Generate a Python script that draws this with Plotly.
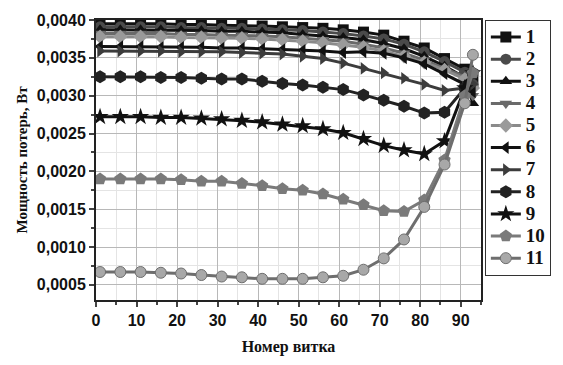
import plotly.graph_objects as go

x_turns = [1, 6, 11, 16, 21, 26, 31, 36, 41, 46, 51, 56, 61, 66, 71, 76, 81, 86, 91, 93]

s1 = [0.00395, 0.00395, 0.00395, 0.00395, 0.00394, 0.00394, 0.00393, 0.00393, 0.00392, 0.00391,
      0.00390, 0.00389, 0.00387, 0.00384, 0.00380, 0.00372, 0.00363, 0.00349, 0.00335, 0.00318]
s2 = [0.00391, 0.00391, 0.00391, 0.00391, 0.00390, 0.00390, 0.00389, 0.00389, 0.00388, 0.00387,
      0.00386, 0.00384, 0.00382, 0.00379, 0.00375, 0.00368, 0.00358, 0.00345, 0.00331, 0.00315]
s3 = [0.00387, 0.00387, 0.00387, 0.00387, 0.00386, 0.00386, 0.00385, 0.00385, 0.00384, 0.00383,
      0.00381, 0.00379, 0.00377, 0.00374, 0.00369, 0.00362, 0.00352, 0.00339, 0.00324, 0.00290]
s4 = [0.00382, 0.00382, 0.00382, 0.00382, 0.00381, 0.00381, 0.00380, 0.00380, 0.00379, 0.00378,
      0.00376, 0.00374, 0.00372, 0.00368, 0.00363, 0.00356, 0.00347, 0.00336, 0.00325, 0.00300]
s5 = [0.00378, 0.00378, 0.00378, 0.00378, 0.00377, 0.00377, 0.00376, 0.00376, 0.00375, 0.00374,
      0.00372, 0.00370, 0.00367, 0.00364, 0.00359, 0.00352, 0.00344, 0.00334, 0.00322, 0.00310]
s6 = [0.00365, 0.00365, 0.00365, 0.00364, 0.00364, 0.00364, 0.00363, 0.00363, 0.00362, 0.00361,
      0.00360, 0.00359, 0.00357, 0.00358, 0.00356, 0.00350, 0.00342, 0.00329, 0.00315, 0.00305]
s7 = [0.00359, 0.00359, 0.00359, 0.00359, 0.00358, 0.00358, 0.00358, 0.00357, 0.00356, 0.00355,
      0.00352, 0.00349, 0.00343, 0.00336, 0.00330, 0.00323, 0.00315, 0.00307, 0.00310, 0.00315]
s8 = [0.00325, 0.00325, 0.00325, 0.00324, 0.00324, 0.00323, 0.00322, 0.00322, 0.00319, 0.00316,
      0.00314, 0.00311, 0.00308, 0.00301, 0.00294, 0.00286, 0.00277, 0.00278, 0.00310, 0.00330]
s9 = [0.00272, 0.00272, 0.00272, 0.00271, 0.00271, 0.00270, 0.00269, 0.00267, 0.00265, 0.00262,
      0.00260, 0.00256, 0.00251, 0.00243, 0.00234, 0.00228, 0.00223, 0.00240, 0.00310, 0.00330]
s10 = [0.00190, 0.00190, 0.00190, 0.00190, 0.00189, 0.00187, 0.00187, 0.00184, 0.00181, 0.00177,
       0.00175, 0.00170, 0.00163, 0.00156, 0.00148, 0.00147, 0.00162, 0.00215, 0.00300, 0.00330]
s11 = [0.00067, 0.00067, 0.00067, 0.00066, 0.00065, 0.00063, 0.00061, 0.00060, 0.00058, 0.00058,
       0.00058, 0.00060, 0.00062, 0.00070, 0.00085, 0.00110, 0.00153, 0.00209, 0.00290, 0.00354]

series_names = ["1", "2", "3", "4", "5", "6", "7", "8", "9", "10", "11"]
series_values = [s1, s2, s3, s4, s5, s6, s7, s8, s9, s10, s11]
series_symbols = ["square", "circle", "triangle-up", "triangle-down", "diamond", "triangle-left",
                  "triangle-right", "hexagon", "star", "pentagon", "circle"]
series_colors = ["#111111", "#4a4a4a", "#111111", "#6a6a6a", "#8a8a8a", "#111111",
                 "#3c3c3c", "#222222", "#111111", "#7a7a7a", "#6e6e6e"]
marker_colors = ["#111111", "#4a4a4a", "#111111", "#6a6a6a", "#9a9a9a", "#111111",
                 "#3c3c3c", "#222222", "#111111", "#7a7a7a", "#a8a8a8"]

x_ticks = [0, 10, 20, 30, 40, 50, 60, 70, 80, 90]
y_ticks = [0.0005, 0.0010, 0.0015, 0.0020, 0.0025, 0.0030, 0.0035, 0.0040]

fig = go.Figure()
for name, vals, sym, col, mcol in zip(series_names, series_values, series_symbols,
                                     series_colors, marker_colors):
    msize = 13 if sym in ("star", "hexagon", "pentagon") else 11
    fig.add_trace(go.Scatter(
        x=x_turns, y=vals,
        name=f"<span style='font-size:19px'><b>{name}</b></span>",
        mode="lines+markers",
        line=dict(color=col, width=3),
        marker=dict(symbol=sym, size=msize, color=mcol,
                    line=dict(color=col, width=1 if name == "11" else 0)),
    ))

axis_font = dict(family="Liberation Sans", size=16, color="#111111")
fig.update_layout(
    width=563, height=365,
    margin=dict(l=96, r=74, t=19, b=54),
    plot_bgcolor="white", paper_bgcolor="white",
    separators=",.",
    showlegend=True,
    legend=dict(x=1.01, y=1.0, xanchor="left", yanchor="top",
                bordercolor="#333333", borderwidth=1, tracegroupgap=0,
                font=dict(family="Liberation Serif", size=14.7, color="#111111"),
                itemwidth=30),
    xaxis=dict(range=[0, 95], tickvals=x_ticks, ticktext=[f"<b>{v}</b>" for v in x_ticks],
               tickfont=axis_font, ticks="outside", ticklen=5, tickwidth=1.5,
               showline=True, linecolor="#222222", linewidth=2, mirror=True,
               showgrid=True, gridcolor="#b8b8b8", gridwidth=1,
               minor=dict(dtick=5, ticks="outside", ticklen=3, showgrid=True,
                          gridcolor="#e4e4e4", gridwidth=1),
               zeroline=False,
               title=dict(text="<b>Номер витка</b>",
                          font=dict(family="Liberation Serif", size=16, color="#111111"),
                          standoff=13)),
    yaxis=dict(range=[0.0003, 0.0040], tickvals=y_ticks,
               ticktext=[f"<b>{v:.4f}</b>".replace(".", ",") for v in y_ticks],
               tickfont=axis_font, ticks="outside", ticklen=5, tickwidth=1.5,
               showline=True, linecolor="#222222", linewidth=2, mirror=True,
               showgrid=True, gridcolor="#b8b8b8", gridwidth=1,
               minor=dict(dtick=0.00025, tick0=0, ticks="outside", ticklen=3, showgrid=True,
                          gridcolor="#e4e4e4", gridwidth=1),
               zeroline=False,
               title=dict(text="<b>Мощность потерь, Вт</b>",
                          font=dict(family="Liberation Serif", size=15, color="#111111"),
                          standoff=6)),
    xaxis2=dict(overlaying="x", side="top", range=[0, 95], tickvals=x_ticks,
                showticklabels=False, ticks="inside", ticklen=5, showgrid=False,
                minor=dict(dtick=5, ticks="inside", ticklen=3), zeroline=False),
    yaxis2=dict(overlaying="y", side="right", range=[0.0003, 0.0040], tickvals=y_ticks,
                showticklabels=False, ticks="inside", ticklen=5, showgrid=False,
                minor=dict(dtick=0.00025, tick0=0, ticks="inside", ticklen=3), zeroline=False),
)
fig.write_html("out.html")
